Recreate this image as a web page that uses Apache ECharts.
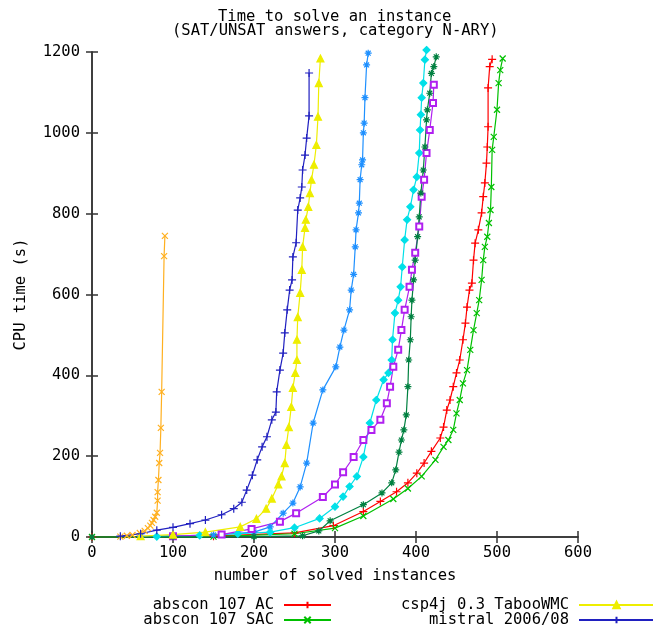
<!DOCTYPE html>
<html>
<head>
<meta charset="utf-8">
<title>Time to solve an instance</title>
<script src="https://cdn.jsdelivr.net/npm/echarts@6/dist/echarts.min.js"></script>
<style>
  html, body { margin: 0; padding: 0; background: #fff; }
  #main { width: 653px; height: 625px; }
</style>
</head>
<body>
<div id="main"></div>
<script>
// [number of solved instances, CPU time (s)]
var abscon107AC = [[0,0],[150,2],[250,10],[298,28],[335,63],[356,88],[376,112],[390,134],[401,158],[410,183],[419,212],[430,245],[434,272],[438,314],[442,339],[446,372],[450,406],[454,438],[458,488],[461,529],[463,569],[466,611],[469,628],[471,685],[473,727],[477,760],[481,802],[483,842],[485,876],[487,925],[488,965],[489,1015],[489,1111],[491,1164],[494,1182]];
var abscon107SAC = [[0,0],[150,1],[250,8],[300,22],[335,52],[372,94],[390,120],[407,150],[424,191],[434,223],[440,240],[446,265],[450,306],[454,339],[458,380],[463,413],[467,463],[471,512],[475,554],[478,586],[481,636],[483,685],[485,718],[488,743],[490,777],[492,809],[493,866],[494,958],[496,990],[500,1057],[502,1123],[504,1155],[507,1184]];
var orangeX = [[35,1],[43,3],[50,5],[59,10],[65,15],[69,22],[72,28],[74,35],[76,42],[78,50],[80,60],[81,90],[81,111],[82,141],[83,183],[84,208],[85,270],[86,359],[89,695],[90,745]];
var dodgerStar = [[60,1],[150,5],[200,12],[220,25],[236,59],[248,84],[257,124],[265,183],[273,282],[285,364],[301,421],[306,470],[311,512],[318,562],[320,611],[323,650],[325,718],[326,760],[329,802],[330,826],[331,884],[333,921],[334,933],[335,1000],[336,1024],[337,1087],[339,1168],[341,1197]];
var cyanDiamond = [[80,1],[133,4],[180,8],[220,12],[250,23],[281,46],[300,75],[310,100],[318,125],[327,150],[335,198],[343,282],[351,339],[360,389],[366,406],[370,438],[371,488],[374,554],[378,586],[381,619],[383,668],[386,735],[389,785],[393,817],[397,859],[401,891],[404,950],[405,1007],[406,1045],[407,1087],[409,1123],[411,1181],[413,1205]];
var purpleSquare = [[100,2],[160,6],[197,20],[232,38],[252,59],[285,99],[300,130],[310,160],[323,198],[335,240],[345,265],[356,290],[364,331],[368,372],[372,421],[378,463],[382,512],[386,562],[392,619],[395,661],[399,703],[404,768],[407,842],[410,884],[413,950],[417,1007],[421,1074],[422,1119]];
var darkGreenStar = [[0,0],[100,0.5],[200,1],[260,3],[280,15],[294,40],[335,80],[358,109],[370,134],[375,166],[379,210],[382,240],[385,265],[388,302],[390,372],[391,438],[393,488],[394,545],[395,586],[397,636],[399,685],[402,743],[404,792],[406,851],[409,908],[411,965],[413,1032],[414,1057],[417,1098],[419,1147],[422,1164],[425,1188]];
var csp4jTabooWMC = [[60,2],[100,6],[140,12],[183,25],[203,45],[215,70],[222,95],[230,130],[234,150],[238,183],[240,228],[243,272],[246,322],[248,369],[251,406],[253,438],[253,488],[254,544],[257,604],[259,661],[260,718],[263,765],[264,785],[267,817],[269,851],[271,884],[274,921],[277,970],[279,1040],[280,1123],[282,1184]];
var mistral200608 = [[35,2],[60,8],[80,17],[100,24],[121,33],[140,42],[160,55],[175,70],[185,86],[191,116],[198,153],[204,191],[210,223],[216,248],[222,290],[227,309],[228,359],[232,413],[236,455],[238,505],[241,562],[244,611],[247,636],[248,693],[252,728],[254,809],[257,839],[259,866],[260,908],[263,945],[265,987],[268,1042],[268,1148]];

var xMin = 0, xMax = 600, xStep = 100;
var yMin = 0, yMax = 1200, yStep = 200;

var MONO = 'DejaVu Sans Mono';
var PLUS = 'path://M0,5L10,5M5,0L5,10';
var CROSS = 'path://M0,0L10,10M0,10L10,0';
var STAR = 'path://M0,5L10,5M5,0L5,10M1.5,1.5L8.5,8.5M1.5,8.5L8.5,1.5';

function mk(name, data, color, symbol, size) {
  return {
    name: name,
    type: 'line',
    data: data,
    symbol: symbol,
    symbolSize: size,
    showSymbol: true,
    lineStyle: { color: color, width: 1.2 },
    itemStyle: { color: color, borderColor: color, borderWidth: 1.2 },
    emphasis: { disabled: true },
    clip: false
  };
}

function leg(name, right, top, width) {
  return {
    data: [name],
    right: right,
    top: top,
    align: 'right',
    padding: 0,
    itemWidth: width,
    itemHeight: 8,
    selectedMode: false,
    textStyle: { fontFamily: MONO, fontSize: 15.5, color: '#000', lineHeight: 13, padding: [0, 5, 0, 0] }
  };
}

var axisText = { fontFamily: MONO, fontSize: 15.5, color: '#000' };
var lineCol = { lineStyle: { color: '#333', width: 1.5 } };
var tickIn = { inside: true, length: 6, lineStyle: { color: '#333', width: 1.5 } };

var chart = echarts.init(document.getElementById('main'));
chart.setOption({
  animation: false,
  backgroundColor: '#fff',
  title: [
    { text: 'Time to solve an instance', left: 218, top: 10, padding: 0,
      textStyle: { fontFamily: MONO, fontSize: 15.5, fontWeight: 'normal', color: '#000', lineHeight: 14 } },
    { text: '(SAT/UNSAT answers, category N-ARY)', left: 172, top: 24, padding: 0,
      textStyle: { fontFamily: MONO, fontSize: 15.5, fontWeight: 'normal', color: '#000', lineHeight: 14 } }
  ],
  legend: [
    leg('abscon 107 AC', 321, 597, 47),
    leg('abscon 107 SAC', 321, 612, 47),
    leg('csp4j 0.3 TabooWMC', -2, 597, 75),
    leg('mistral 2006/08', -2, 612, 75)
  ],
  grid: { left: 92, right: 75, top: 52, bottom: 88 },
  xAxis: [
    { type: 'value', min: xMin, max: xMax, interval: xStep, position: 'bottom',
      name: 'number of solved instances', nameLocation: 'middle', nameGap: 31,
      nameTextStyle: axisText,
      axisLine: lineCol, axisTick: tickIn, splitLine: { show: false },
      axisLabel: Object.assign({ margin: 8, formatter: function (v) { return String(v); } }, axisText) },
    { type: 'value', min: xMin, max: xMax, interval: xStep, position: 'top',
      axisLine: lineCol, axisTick: tickIn, splitLine: { show: false },
      axisLabel: { show: false } }
  ],
  yAxis: [
    { type: 'value', min: yMin, max: yMax, interval: yStep, position: 'left',
      name: 'CPU time (s)', nameLocation: 'middle', nameGap: 63, nameRotate: 90,
      nameTextStyle: axisText,
      axisLine: lineCol, axisTick: tickIn, splitLine: { show: false },
      axisLabel: Object.assign({ margin: 12, formatter: function (v) { return String(v); } }, axisText) },
    { type: 'value', min: yMin, max: yMax, interval: yStep, position: 'right',
      axisLine: lineCol, axisTick: tickIn, splitLine: { show: false },
      axisLabel: { show: false } }
  ],
  series: [
    mk('abscon 107 AC', abscon107AC, '#ff0000', PLUS, 8),
    mk('abscon 107 SAC', abscon107SAC, '#00c000', CROSS, 6),
    mk('orange', orangeX, '#ffb020', CROSS, 6),
    mk('dodger', dodgerStar, '#1e90ff', STAR, 7),
    mk('cyan', cyanDiamond, '#00e0e8', 'diamond', 7),
    mk('purple', purpleSquare, '#b020f0', 'emptyRect', 6),
    mk('darkgreen', darkGreenStar, '#008040', STAR, 7),
    mk('csp4j 0.3 TabooWMC', csp4jTabooWMC, '#eeee00', 'triangle', 7),
    mk('mistral 2006/08', mistral200608, '#2020c0', PLUS, 8)
  ]
});
</script>
</body>
</html>
